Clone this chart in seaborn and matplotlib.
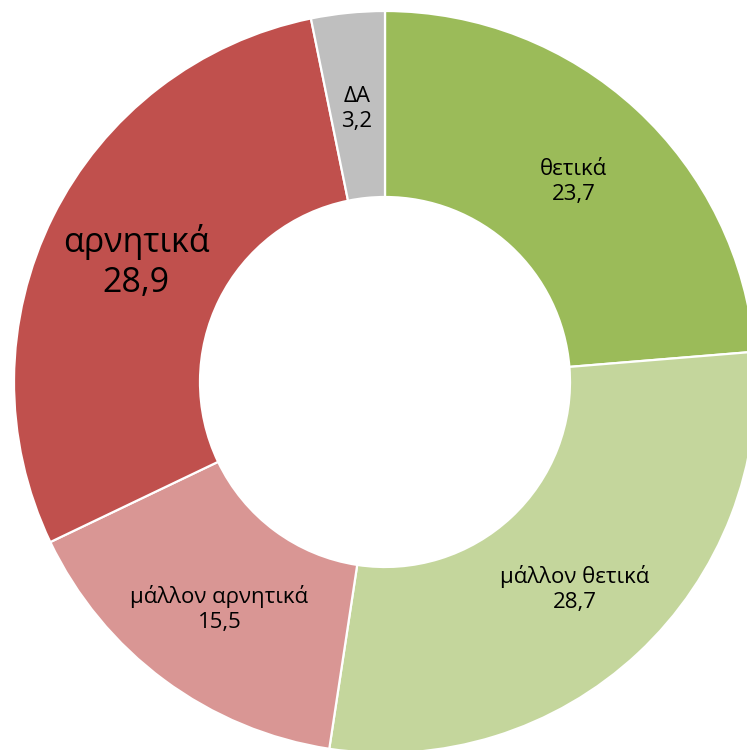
import matplotlib

matplotlib.use("Agg")
import matplotlib.pyplot as plt
import numpy as np
import seaborn as sns

CATEGORIES = ["θετικά", "μάλλον θετικά", "μάλλον αρνητικά", "αρνητικά", "ΔΑ"]
VALUES = [23.7, 28.7, 15.5, 28.9, 3.2]
COLORS = ["#9BBB59", "#C4D69C", "#D99694", "#C0504D", "#BFBFBF"]
LABEL_SIZES = [16, 16, 16, 24.5, 16]

W, H = 747, 750
CENTER = (385, H - 382)
R_OUT = 371
RING = 186


def main() -> None:
    sns.set_theme(style="white")
    plt.rcParams["font.family"] = ["Open Sans", "DejaVu Sans"]

    fig = plt.figure(figsize=(W / 100, H / 100), dpi=100)
    ax = fig.add_axes([0, 0, 1, 1])
    wedges, _ = ax.pie(
        VALUES,
        colors=COLORS,
        startangle=90,
        counterclock=False,
        center=CENTER,
        radius=R_OUT,
        wedgeprops={"width": RING, "edgecolor": "white", "linewidth": 1.6},
    )

    r_mid = R_OUT - RING / 2
    for wedge, name, value, size in zip(wedges, CATEGORIES, VALUES, LABEL_SIZES):
        angle = np.deg2rad((wedge.theta1 + wedge.theta2) / 2)
        x = CENTER[0] + r_mid * np.cos(angle)
        y = CENTER[1] + r_mid * np.sin(angle)
        label = f"{name}\n{value:.1f}".replace(".", ",")
        ax.text(x, y - 4, label, ha="center", va="center", fontsize=size, color="black", linespacing=1.25)

    ax.set_xlim(0, W)
    ax.set_ylim(0, H)
    ax.set_aspect("equal", adjustable="box")
    ax.axis("off")
    fig.savefig("out.png", dpi=100, facecolor="white")
    plt.close(fig)


if __name__ == "__main__":
    main()
